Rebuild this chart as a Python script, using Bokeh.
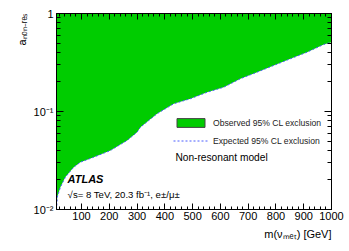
from bokeh.plotting import figure
from bokeh.models import (Range1d, LinearAxis, LogAxis, SingleIntervalTicker, FixedTicker,
                          CustomJSTickFormatter, Label, Legend, LegendItem, ColumnDataSource,
                          Title)
from bokeh.embed import file_html
from bokeh.resources import INLINE

# ---- data ----
mass = [10, 13, 24, 42, 72, 96, 144, 204, 264, 300, 312, 372, 432, 492, 552, 612,
        672, 732, 792, 852, 912, 972, 1000]
observed = [0.0100, 0.0134, 0.0169, 0.0214, 0.0270, 0.0304, 0.0342, 0.0400, 0.0506,
            0.0615, 0.0690, 0.0948, 0.120, 0.135, 0.157, 0.177, 0.216, 0.252, 0.295,
            0.345, 0.403, 0.483, 0.510]
expected = [0.0100, 0.0134, 0.0169, 0.0214, 0.0270, 0.0304, 0.0342, 0.0400, 0.0506,
            0.0615, 0.0690, 0.0948, 0.120, 0.135, 0.157, 0.177, 0.216, 0.252, 0.295,
            0.345, 0.403, 0.483, 0.510]
X_MIN, X_MAX = 10, 1000
Y_MIN, Y_MAX = 0.01, 1.0
y_major = [0.01, 0.1, 1.0]
y_minor = [m * d for d in y_major[:-1] for m in range(2, 10)]

GREEN = "#00cc00"
FONT = "Liberation Sans"

src = ColumnDataSource(dict(mass=mass, observed=observed, expected=expected,
                            top=[Y_MAX] * len(mass)))

p = figure(frame_width=275, frame_height=196,
           min_border_left=56, min_border_right=18, min_border_top=13, min_border_bottom=42,
           x_range=Range1d(X_MIN, X_MAX), y_range=Range1d(Y_MIN, Y_MAX),
           y_axis_type="log", x_axis_location=None, y_axis_location=None,
           output_backend="svg", toolbar_location=None)
p.xgrid.visible = False
p.ygrid.visible = False
p.outline_line_color = "black"
p.outline_line_width = 1
p.background_fill_color = "white"
p.border_fill_color = "white"

va = p.varea(x="mass", y1="observed", y2="top", source=src, fill_color=GREEN)
ln = p.line(x="mass", y="expected", source=src, line_color="#4a5cff",
            line_dash="2 2", line_width=1)
# hidden renderer only used for the legend swatch (green box with dark outline)
box = p.rect(x="mass", y="observed", width=1, height=1, source=src,
             fill_color=GREEN, line_color="#444444", visible=False)

ylab = CustomJSTickFormatter(code="""
const e = Math.round(Math.log10(tick));
if (e === 0) return '1';
const sup = {'-':'\\u207B','0':'\\u2070','1':'\\u00B9','2':'\\u00B2','3':'\\u00B3'};
return '10' + String(e).split('').map(c => sup[c]).join('');
""")
blank = CustomJSTickFormatter(code="return '';")


def style(ax, major, minor):
    ax.axis_line_color = "black"
    ax.major_tick_in = major
    ax.major_tick_out = 0
    ax.minor_tick_in = minor
    ax.minor_tick_out = 0
    ax.major_tick_line_color = "black"
    ax.minor_tick_line_color = "black"
    ax.major_label_text_font = FONT
    ax.major_label_text_font_size = "11px"
    ax.major_label_text_font_style = "normal"
    ax.major_label_text_color = "black"


xb = LinearAxis(ticker=SingleIntervalTicker(interval=100, num_minor_ticks=5))
style(xb, 6, 3)
xb.major_label_standoff = 2
p.add_layout(xb, "below")
xt = LinearAxis(ticker=SingleIntervalTicker(interval=100, num_minor_ticks=5), formatter=blank)
style(xt, 6, 3)
xt.major_label_standoff = 0
p.add_layout(xt, "above")

yl = LogAxis(ticker=FixedTicker(ticks=y_major, minor_ticks=y_minor), formatter=ylab)
style(yl, 7, 4)
yl.major_label_standoff = 3
p.add_layout(yl, "left")
yr = LogAxis(ticker=FixedTicker(ticks=y_major, minor_ticks=y_minor), formatter=blank)
style(yr, 7, 4)
yr.major_label_standoff = 0
p.add_layout(yr, "right")

# axis titles (side-panel titles, not clipped by the frame)
p.add_layout(Title(text="a\u2099\u2092\u2099\u208B\u1D63\u2091\u209B", align="right",
                   text_font=FONT, text_font_size="11px", text_font_style="normal",
                   text_color="black", standoff=6), "left")
p.add_layout(Title(text="m(\u03BD\u2098\u2091\u209C) [GeV]", align="right",
                   text_font=FONT, text_font_size="11px", text_font_style="normal",
                   text_color="black", standoff=6), "below")

legend = Legend(items=[LegendItem(label="Observed 95% CL exclusion", renderers=[box]),
                       LegendItem(label="Expected 95% CL exclusion", renderers=[ln])],
                location=(117, 63), orientation="vertical")
legend.label_text_font = FONT
legend.label_text_font_size = "8.6px"
legend.label_text_color = "#222222"
legend.glyph_width = 35
legend.glyph_height = 11
legend.label_height = 11
legend.spacing = 7
legend.padding = 0
legend.margin = 0
legend.label_standoff = 5
legend.border_line_color = None
legend.background_fill_alpha = 0
p.add_layout(legend)

# texts inside the frame (data units)
p.add_layout(Label(x=438, y=0.0339, text="Non-resonant model", text_font=FONT,
                   text_font_size="10.2px", text_baseline="middle", text_color="black"))
p.add_layout(Label(x=50, y=0.0207, text="ATLAS", text_font=FONT, text_font_size="11px",
                   text_font_style="bold italic", text_baseline="middle", text_color="black"))
p.add_layout(Label(x=50, y=0.0142, text="\u221As= 8 TeV, 20.3 fb\u207B\u00B9, e\u00B1/\u03BC\u00B1",
                   text_font=FONT, text_font_size="9.6px", text_baseline="middle",
                   text_color="black"))

open("out.html", "w").write(file_html(p, INLINE))
